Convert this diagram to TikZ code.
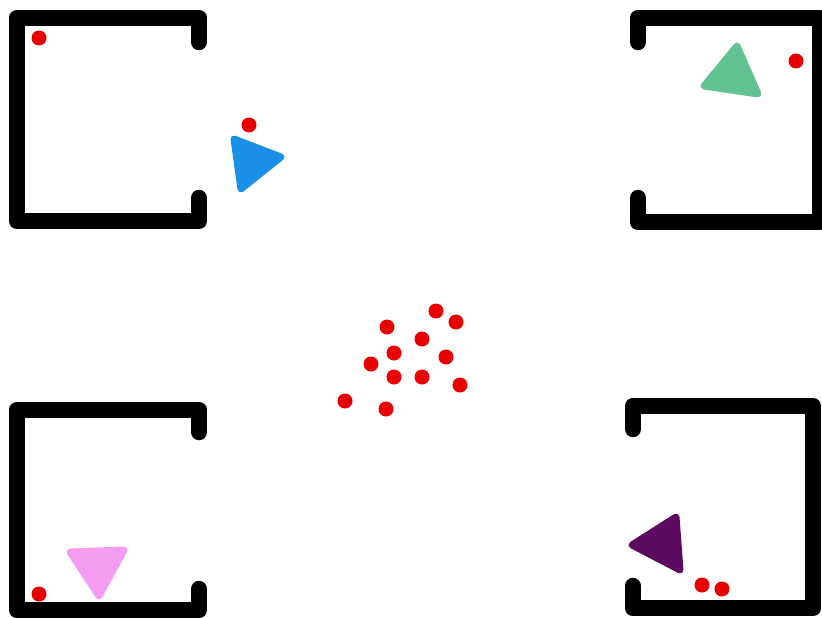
\documentclass[tikz,border=0pt]{standalone}
\usetikzlibrary{calc}
\definecolor{wallc}{HTML}{000000}
\definecolor{dotc}{HTML}{E80000}
\definecolor{bluec}{HTML}{1A8FE6}
\definecolor{greenc}{HTML}{62C292}
\definecolor{pinkc}{HTML}{F49CF2}
\definecolor{purplec}{HTML}{5C0A60}
\begin{document}
\begin{tikzpicture}[x=1pt,y=-1pt,
  wall/.style={draw=wallc,line width=16.5pt,line cap=round,line join=round},
  dot/.style={circle,fill=dotc,inner sep=0pt,minimum size=15pt},
  agent/.style={line width=7pt,line join=round}]
\useasboundingbox (0,0) rectangle (822,618);
% rooms
\draw[wall] (199,42) -- (199,18) -- (17,18) -- (17,221) -- (199,221) -- (199,198);
\draw[wall] (638,42) -- (638,18) -- (820,18) -- (820,222) -- (638,222) -- (638,198);
\draw[wall] (199,432) -- (199,410) -- (17,410) -- (17,610) -- (199,610) -- (199,589);
\draw[wall] (633,429) -- (633,406) -- (813,406) -- (813,608) -- (633,608) -- (633,586);
% agents
\filldraw[agent,fill=bluec,draw=bluec] (234,139) -- (281,157) -- (241,189) -- cycle;
\filldraw[agent,fill=greenc,draw=greenc] (737,46) -- (704,86) -- (758,94) -- cycle;
\filldraw[agent,fill=pinkc,draw=pinkc] (70,552) -- (124,550) -- (99,596) -- cycle;
\filldraw[agent,fill=purplec,draw=purplec] (632,545) -- (676,517) -- (680,570) -- cycle;
% dots in rooms
\node[dot] (d1) at (39,38) {};
\node[dot] (d2) at (249,125) {};
\node[dot] (d3) at (796,61) {};
\node[dot] (d4) at (39,594) {};
\node[dot] (d5) at (702,585) {};
\node[dot] (d6) at (722,589) {};
% central cluster
\node[dot] (c1) at (436,311) {};
\node[dot] (c2) at (456,322) {};
\node[dot] (c3) at (387,327) {};
\node[dot] (c4) at (422,339) {};
\node[dot] (c5) at (394,353) {};
\node[dot] (c6) at (446,357) {};
\node[dot] (c7) at (371,364) {};
\node[dot] (c8) at (394,377) {};
\node[dot] (c9) at (422,377) {};
\node[dot] (c10) at (460,385) {};
\node[dot] (c11) at (345,401) {};
\node[dot] (c12) at (386,409) {};
\end{tikzpicture}
\end{document}
